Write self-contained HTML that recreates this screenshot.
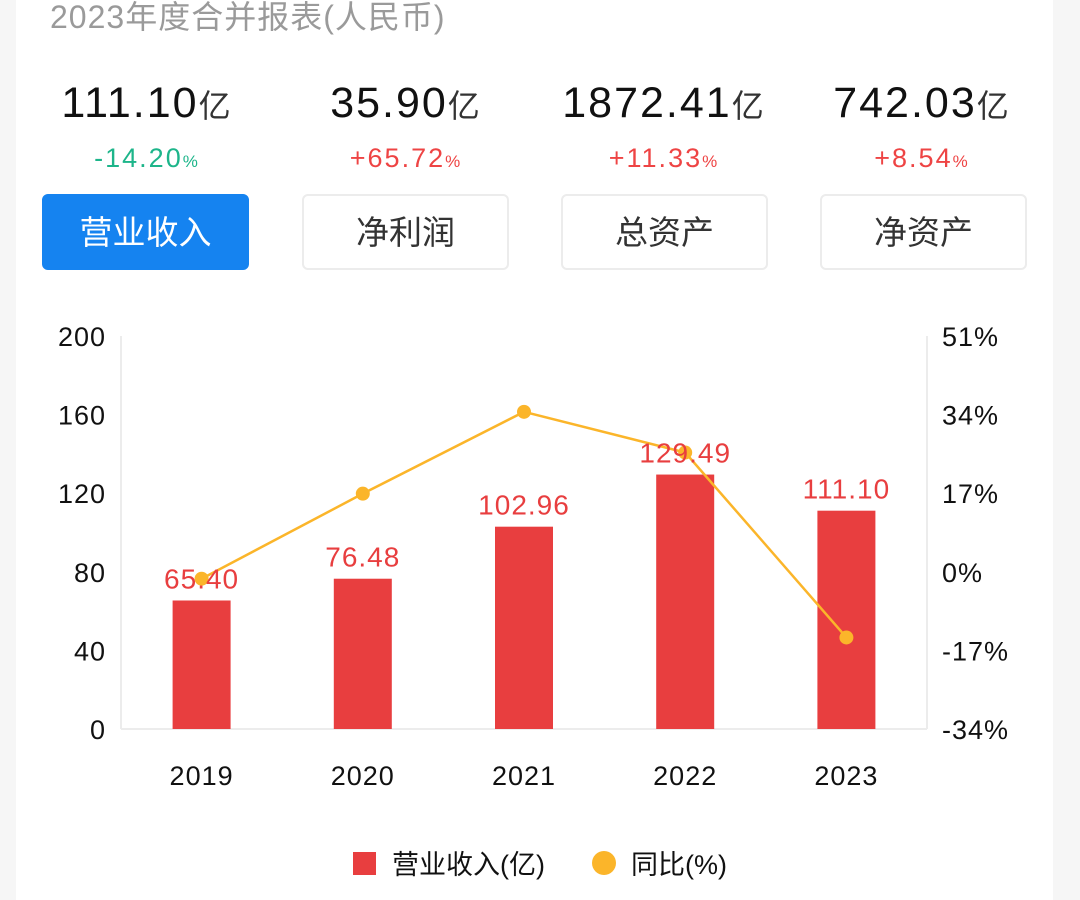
<!DOCTYPE html>
<html><head><meta charset="utf-8">
<style>
html,body{margin:0;padding:0;width:1080px;height:900px;overflow:hidden;background:#f6f6f6;font-family:"Liberation Sans","Noto Sans CJK SC",sans-serif;}
#card{position:absolute;left:16px;top:0;width:1037px;height:900px;background:#fff;}
.abs{position:absolute;}
.title{left:50px;top:-8px;font-size:32px;letter-spacing:1px;color:#9a9a9a;white-space:nowrap;}
.val{top:79px;width:250px;text-align:center;font-size:43px;letter-spacing:2px;color:#111;white-space:nowrap;}
.val span{font-size:32px;color:#333;letter-spacing:0;}
.chg{top:143px;width:250px;text-align:center;font-size:27px;letter-spacing:2px;white-space:nowrap;}
.chg span{font-size:17px;letter-spacing:0;}
.btn{top:194px;width:207px;height:76px;box-sizing:border-box;border:2px solid #ececec;border-radius:6px;text-align:center;line-height:74px;font-size:33px;color:#333;}
.btn.on{background:#1583f0;border-color:#1583f0;color:#fff;}
</style></head><body>
<div id="card"></div>
<div class="abs title">2023年度合并报表(人民币)</div>

<div class="abs val" style="left:21px">111.10<span>亿</span></div>
<div class="abs val" style="left:280px">35.90<span>亿</span></div>
<div class="abs val" style="left:538px">1872.41<span>亿</span></div>
<div class="abs val" style="left:796px">742.03<span>亿</span></div>

<div class="abs chg" style="left:21px;color:#1db58a">-14.20<span>%</span></div>
<div class="abs chg" style="left:280px;color:#ee4444">+65.72<span>%</span></div>
<div class="abs chg" style="left:538px;color:#ee4444">+11.33<span>%</span></div>
<div class="abs chg" style="left:796px;color:#ee4444">+8.54<span>%</span></div>

<div class="abs btn on" style="left:42px">营业收入</div>
<div class="abs btn" style="left:302px">净利润</div>
<div class="abs btn" style="left:561px">总资产</div>
<div class="abs btn" style="left:820px">净资产</div>

<svg id="chart" class="abs" style="left:0;top:0" width="1080" height="900"></svg>

<script>
const categories = ["2019","2020","2021","2022","2023"];
const revenue = [65.40, 76.48, 102.96, 129.49, 111.10];
const yoy = [-1.5, 16.9, 34.6, 25.8, -14.2];
const leftTicks = [0, 40, 80, 120, 160, 200];
const rightTicks = [-34, -17, 0, 17, 34, 51];

const svg = document.getElementById('chart');
const NS = 'http://www.w3.org/2000/svg';
const X0 = 121, X1 = 927, YT = 336, YB = 729;
const bandW = (X1 - X0) / categories.length;
const xC = i => X0 + bandW * (i + 0.5);
const yL = v => YB - (v - 0) / (200 - 0) * (YB - YT);
const yR = v => YB - (v - (-34)) / (51 - (-34)) * (YB - YT);
function mk(tag, attrs, text){
  const e = document.createElementNS(NS, tag);
  for (const k in attrs) e.setAttribute(k, attrs[k]);
  if (text !== undefined) e.textContent = text;
  svg.appendChild(e);
  return e;
}
const FONT = '"Liberation Sans","Noto Sans CJK SC",sans-serif';

let a = mk('line', {x1:X0, y1:YT, x2:X0, y2:YB, stroke:'#ececec', 'stroke-width':2});


a = mk('line', {x1:X1, y1:YT, x2:X1, y2:YB, stroke:'#ececec', 'stroke-width':2});


a = mk('line', {x1:X0, y1:YB, x2:X1, y2:YB, stroke:'#ececec', 'stroke-width':2});



leftTicks.forEach(v => {
  const t = mk('text', {x:106, y:yL(v) + 10, 'text-anchor':'end', 'font-size':27, 'letter-spacing':1, fill:'#111', 'font-family':FONT}, String(v));
  
  
});
rightTicks.forEach(v => {
  const t = mk('text', {x:942, y:yR(v) + 10, 'text-anchor':'start', 'font-size':27, 'letter-spacing':1, fill:'#111', 'font-family':FONT}, v + '%');
  
  
});
categories.forEach((c, i) => {
  const t = mk('text', {x:xC(i), y:785, 'text-anchor':'middle', 'font-size':27, 'letter-spacing':1, fill:'#111', 'font-family':FONT}, c);
  
  
});

const BW = 58;
revenue.forEach((v, i) => {
  const b = mk('rect', {x:xC(i) - BW/2, y:yL(v), width:BW, height:YB - yL(v), fill:'#e83e3f'});
  
  
});
const pts = yoy.map((v, i) => xC(i) + ',' + yR(v)).join(' ');
const pl = mk('polyline', {points:pts, fill:'none', stroke:'#fbb52a', 'stroke-width':2.5});


yoy.forEach((v, i) => {
  const c = mk('circle', {cx:xC(i), cy:yR(v), r:7, fill:'#fbb52a'});
  
  
});
revenue.forEach((v, i) => {
  const t = mk('text', {x:xC(i), y:yL(v) - 12, 'text-anchor':'middle', 'font-size':28, 'letter-spacing':1, fill:'#e83e3f', 'font-family':FONT}, v.toFixed(2));
  
  
});

let l = mk('rect', {x:353, y:852, width:23, height:23, fill:'#e83e3f'});


l = mk('text', {x:392, y:874, 'font-size':27, fill:'#111', 'font-family':FONT}, '营业收入(亿)');


l = mk('circle', {cx:604, cy:863, r:12, fill:'#fbb52a'});


l = mk('text', {x:631, y:874, 'font-size':27, fill:'#111', 'font-family':FONT}, '同比(%)');


</script>
</body></html>
